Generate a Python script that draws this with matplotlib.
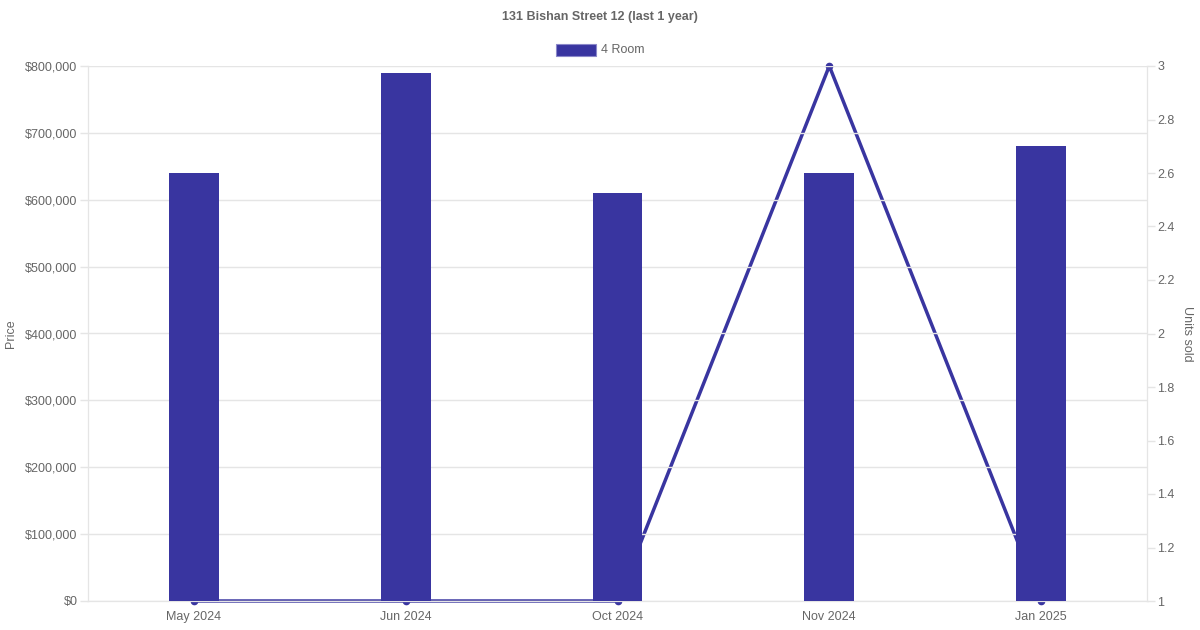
import matplotlib.pyplot as plt
from matplotlib.ticker import FuncFormatter, MultipleLocator

plt.rcParams['font.family'] = ['Liberation Sans', 'DejaVu Sans']

# data
months = ['May 2024', 'Jun 2024', 'Oct 2024', 'Nov 2024', 'Jan 2025']
prices = [640000, 790000, 610000, 640000, 680000]
units_sold = [1, 1, 1, 3, 1]

color = '#3935a0'
text_color = '#666666'
grid_color = '#e5e5e5'

fig = plt.figure(figsize=(12, 6.3), dpi=100)
ax = fig.add_axes([88 / 1200, 1 - 601 / 630, (1147 - 88) / 1200, (601 - 66) / 630])
ax2 = ax.twinx()

x = range(len(months))
ax2.plot(x, units_sold, color=color, linewidth=2.5, marker='o', markersize=4.5, zorder=1, clip_on=False)
ax.bar(x, prices, width=0.236, color=color, zorder=3)

# bars over the line
ax.set_zorder(ax2.get_zorder() + 1)
ax.patch.set_visible(False)

ax.set_xlim(-0.5, len(months) - 0.5)
ax.set_ylim(0, 800000)
ax.yaxis.set_major_locator(MultipleLocator(100000))
ax.yaxis.set_major_formatter(FuncFormatter(lambda v, p: f'${v:,.0f}'))
ax2.set_ylim(1, 3)
ax2.yaxis.set_major_locator(MultipleLocator(0.2))
ax2.yaxis.set_major_formatter(FuncFormatter(lambda v, p: f'{v:g}'))

ax.set_xticks(list(x))
ax.set_xticklabels(months)
ax.grid(axis='y', color=grid_color, linewidth=1, zorder=0)
ax.set_axisbelow(True)

for a in (ax, ax2):
    for s in a.spines.values():
        s.set_color(grid_color)
    a.spines['top'].set_visible(False)
    a.tick_params(colors=grid_color, labelcolor=text_color, labelsize=9, length=6, width=1, pad=1.5)
ax.tick_params(axis='x', length=0, pad=7)

ax.set_ylabel('Price', color=text_color, fontsize=9)
ax.yaxis.set_label_coords((17 - 88) / 1059, 0.5)
ax2.set_ylabel('Units sold', color=text_color, fontsize=9, rotation=270)
ax2.yaxis.set_label_coords((1193 - 88) / 1059, 0.5)

fig.text(0.5, 1 - 17 / 630, '131 Bishan Street 12 (last 1 year)', ha='center', va='center',
         fontsize=9, fontweight='bold', color=text_color)

# legend
fig.patches.append(plt.Rectangle((556 / 1200, 1 - 56 / 630), 40 / 1200, 12 / 630,
                                 transform=fig.transFigure, facecolor=color, edgecolor='#8b88c9',
                                 linewidth=0.8))
fig.text(601 / 1200, 1 - 50 / 630, '4 Room', ha='left', va='center', fontsize=9, color=text_color)

fig.savefig('out.png', dpi=100)
